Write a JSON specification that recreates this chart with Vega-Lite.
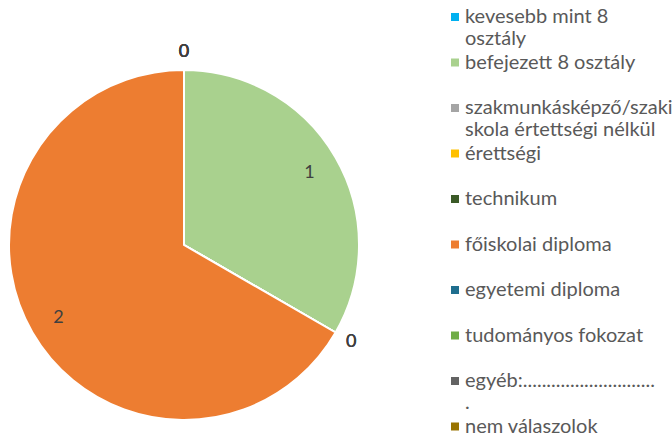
{
  "$schema": "https://vega.github.io/schema/vega-lite/v6.json",
  "autosize": "none",
  "width": 368,
  "height": 378,
  "padding": {"top": 56, "left": 0, "right": 304, "bottom": 0},
  "background": "white",
  "title": {"text": "Végzettség", "font": "Lato", "fontSize": 34, "fontWeight": "normal", "color": "#595959", "anchor": "middle", "frame": "group", "baseline": "alphabetic", "offset": 8, "dy": 13, "dx": 180},
  "data": {
    "values": [
      {"kategoria": "kevesebb mint 8 osztály", "darab": 0, "sorrend": 1},
      {"kategoria": "befejezett 8 osztály", "darab": 1, "sorrend": 2},
      {"kategoria": "szakmunkásképző/szakiskola értettségi nélkül", "darab": 0, "sorrend": 3},
      {"kategoria": "érettségi", "darab": 0, "sorrend": 4},
      {"kategoria": "technikum", "darab": 0, "sorrend": 5},
      {"kategoria": "főiskolai diploma", "darab": 2, "sorrend": 6},
      {"kategoria": "egyetemi diploma", "darab": 0, "sorrend": 7},
      {"kategoria": "tudományos fokozat", "darab": 0, "sorrend": 8},
      {"kategoria": "egyéb:.............................", "darab": 0, "sorrend": 9},
      {"kategoria": "nem válaszolok", "darab": 0, "sorrend": 10}
    ]
  },
  "encoding": {
    "theta": {"field": "darab", "type": "quantitative", "stack": true},
    "order": {"field": "sorrend", "type": "quantitative"},
    "color": {
      "field": "kategoria",
      "type": "nominal",
      "sort": null,
      "scale": {
        "domain": ["kevesebb mint 8 osztály", "befejezett 8 osztály", "szakmunkásképző/szakiskola értettségi nélkül", "érettségi", "technikum", "főiskolai diploma", "egyetemi diploma", "tudományos fokozat", "egyéb:.............................", "nem válaszolok"],
        "range": ["#00B0F0", "#A9D18E", "#A5A5A5", "#FFC000", "#3B5A27", "#ED7D31", "#1F6E8E", "#70AD47", "#636363", "#997300"]
      },
      "legend": {
        "title": null,
        "orient": "none",
        "legendX": 445,
        "legendY": -49,
        "padding": 0,
        "symbolType": "square",
        "symbolSize": 64,
        "symbolStrokeWidth": 0,
        "labelFont": "Lato",
        "labelFontSize": 20,
        "labelColor": "#595959",
        "labelOffset": 0,
        "labelLimit": 0,
        "labelBaseline": "middle",
        "rowPadding": 3.5,
        "labelExpr": "datum.label == 'kevesebb mint 8 osztály' ? ['kevesebb mint 8', 'osztály'] : datum.label == 'szakmunkásképző/szakiskola értettségi nélkül' ? ['szakmunkásképző/szaki', 'skola értettségi nélkül'] : datum.label == 'egyéb:.............................' ? ['egyéb:............................', '.'] : [datum.label, '']",
        "encode": {"labels": {"update": {"lineHeight": {"value": 23}, "dy": {"value": 11.5}}}}
      }
    }
  },
  "layer": [
    {"mark": {"type": "arc", "outerRadius": 175, "stroke": "white", "strokeWidth": 2}},
    {
      "mark": {"type": "text", "radius": 145, "font": "Lato", "fontSize": 18},
      "encoding": {
        "text": {"field": "darab", "type": "quantitative"},
        "color": {"value": "#404040"},
        "opacity": {"condition": {"test": "datum.darab > 0", "value": 1}, "value": 0}
      }
    },
    {
      "mark": {"type": "text", "radius": 193, "font": "Lato", "fontSize": 18},
      "encoding": {
        "text": {"field": "darab", "type": "quantitative"},
        "color": {"value": "#404040"},
        "opacity": {"condition": {"test": "datum.darab == 0", "value": 1}, "value": 0}
      }
    }
  ]
}
